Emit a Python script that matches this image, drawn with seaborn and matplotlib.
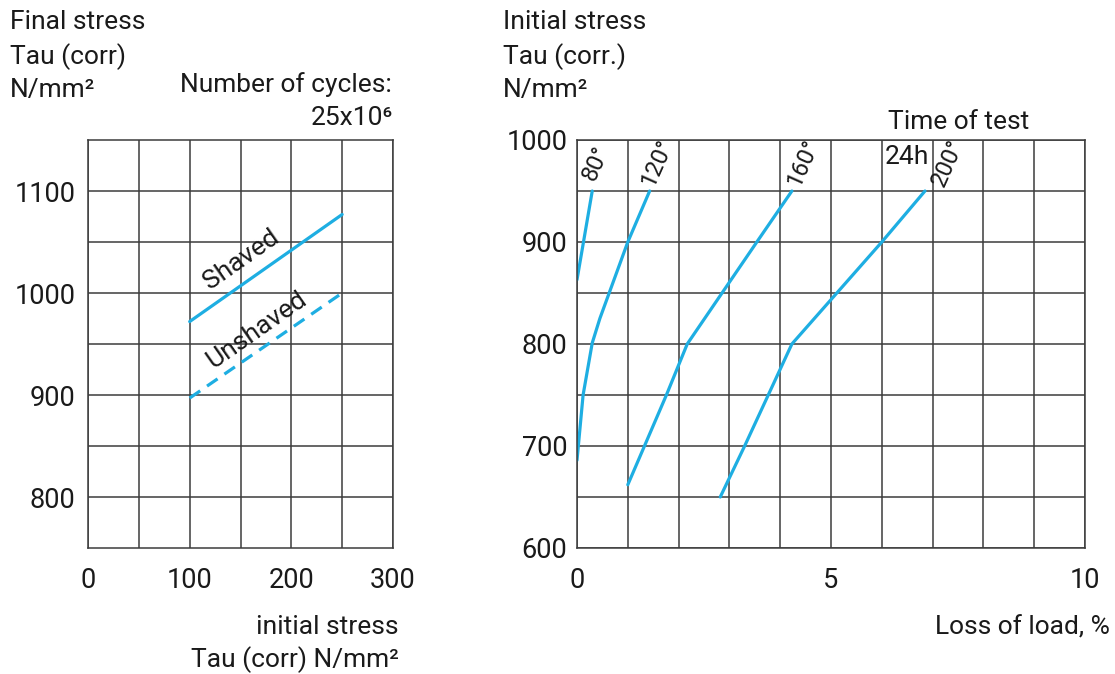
#!/usr/bin/env python3
"""
Fatigue / relaxation charts: final stress vs initial stress (left) and
loss of load vs initial stress at several test temperatures (right).
"""

import pandas as pd
import matplotlib
matplotlib.use("Agg")
import matplotlib.pyplot as plt
import seaborn as sns

# Left chart: final stress vs initial stress, 25x10^6 cycles
INIT_STRESS = [100, 250]
SHAVED = [972, 1077]
UNSHAVED = [897, 1000]

# Right chart: loss of load (%) vs initial stress, 24h test
TEMP_LABELS = ["80°", "120°", "160°", "200°"]
LOSS_80 = [0.0, 0.3]
STRESS_80 = [863, 950]
LOSS_120 = [0.0, 0.12, 0.3, 0.45, 1.0, 1.43]
STRESS_120 = [686, 750, 801, 825, 900, 950]
LOSS_160 = [1.0, 1.76, 2.17, 3.54, 4.23]
STRESS_160 = [662, 750, 800, 900, 950]
LOSS_200 = [2.82, 3.3, 4.23, 6.0, 6.85]
STRESS_200 = [650, 700, 800, 900, 950]

LEFT_XTICKS = [0, 100, 200, 300]
LEFT_YTICKS = [800, 900, 1000, 1100]
RIGHT_XTICKS = [0, 5, 10]
RIGHT_YTICKS = [600, 700, 800, 900, 1000]

# where the temperature labels sit (loss-of-load axis)
TEMP_LABEL_X = [0.37, 1.57, 4.45, 7.3]

BLUE = "#1eaee2"
GRID = "#3c3c3c"
TEXT = "#1a1a1a"
FS = 19      # annotation text
TICK_FS = 19.5

sns.set_theme(style="white")
plt.rcParams['font.family'] = ['Roboto', 'DejaVu Sans']
plt.rcParams['text.color'] = TEXT

fig = plt.figure(figsize=(11.15, 6.74), dpi=100)
W, H = 1115, 674


def ax_rect(x0, x1, y0, y1):
    return [x0 / W, 1 - y1 / H, (x1 - x0) / W, (y1 - y0) / H]


def style_grid(ax, xgrid, ygrid):
    ax.set_xticks(xgrid, minor=True)
    ax.set_yticks(ygrid, minor=True)
    ax.grid(which="both", color=GRID, linewidth=1.1)
    ax.tick_params(which="both", length=0, labelsize=TICK_FS, colors=TEXT)
    for s in ax.spines.values():
        s.set_visible(True)
        s.set_color(GRID)
        s.set_linewidth(1.1)
    ax.set_xlabel("")
    ax.set_ylabel("")
    ax.set_axisbelow(True)


# ---------------- left chart ----------------
ax1 = fig.add_axes(ax_rect(88, 393, 140, 548))
left_df = pd.DataFrame({
    "init": INIT_STRESS * 2,
    "final": SHAVED + UNSHAVED,
    "kind": ["Shaved"] * 2 + ["Unshaved"] * 2,
})
sns.lineplot(data=left_df, x="init", y="final", style="kind",
             dashes={"Shaved": "", "Unshaved": (4, 2.6)},
             color=BLUE, linewidth=2.3, legend=False, ax=ax1)
ax1.set_xlim(0, 300)
ax1.set_ylim(750, 1150)
ax1.set_xticks(LEFT_XTICKS)
ax1.set_yticks(LEFT_YTICKS)
style_grid(ax1, range(50, 300, 50), range(800, 1150, 50))
ax1.tick_params(axis="x", pad=14)
ax1.tick_params(axis="y", pad=9)

ax1.text(151, 1033, "Shaved", rotation=35, ha="center", va="center", fontsize=FS)
ax1.text(166, 964, "Unshaved", rotation=35, ha="center", va="center", fontsize=FS)

fig.text(10 / W, 1 - 22 / H, "Final stress", fontsize=FS, va="center")
fig.text(10 / W, 1 - 57 / H, "Tau (corr)", fontsize=FS, va="center")
fig.text(10 / W, 1 - 90 / H, "N/mm²", fontsize=FS, va="center")
fig.text(392 / W, 1 - 85 / H, "Number of cycles:", fontsize=FS, va="center", ha="right")
fig.text(393 / W, 1 - 118 / H, "25x10⁶", fontsize=FS, va="center", ha="right")
fig.text(399 / W, 1 - 627 / H, "initial stress", fontsize=FS, va="center", ha="right")
fig.text(399 / W, 1 - 660 / H, "Tau (corr) N/mm²", fontsize=FS, va="center", ha="right")

# ---------------- right chart ----------------
ax2 = fig.add_axes(ax_rect(577, 1085, 140, 548))
curves = [(LOSS_80, STRESS_80), (LOSS_120, STRESS_120),
          (LOSS_160, STRESS_160), (LOSS_200, STRESS_200)]
for lbl, lx, (xs, ys) in zip(TEMP_LABELS, TEMP_LABEL_X, curves):
    sns.lineplot(x=xs, y=ys, sort=False, estimator=None, color=BLUE,
                 linewidth=2.3, ax=ax2)
    ax2.text(lx, 977, lbl, rotation=66, ha="center", va="center",
             fontsize=17)
ax2.set_xlim(0, 10)
ax2.set_ylim(600, 1000)
ax2.set_xticks(RIGHT_XTICKS)
ax2.set_yticks(RIGHT_YTICKS)
style_grid(ax2, range(1, 10), range(650, 1000, 50))
ax2.tick_params(axis="x", pad=14)
ax2.tick_params(axis="y", pad=7)

fig.text(503 / W, 1 - 22 / H, "Initial stress", fontsize=FS, va="center")
fig.text(503 / W, 1 - 57 / H, "Tau (corr.)", fontsize=FS, va="center")
fig.text(503 / W, 1 - 90 / H, "N/mm²", fontsize=FS, va="center")
fig.text(888 / W, 1 - 122 / H, "Time of test", fontsize=FS, va="center")
fig.text(885 / W, 1 - 157 / H, "24h", fontsize=FS, va="center")
fig.text(1110 / W, 1 - 627 / H, "Loss of load, %", fontsize=FS, va="center", ha="right")

plt.savefig("out.png", dpi=100, facecolor="white")
plt.close()
